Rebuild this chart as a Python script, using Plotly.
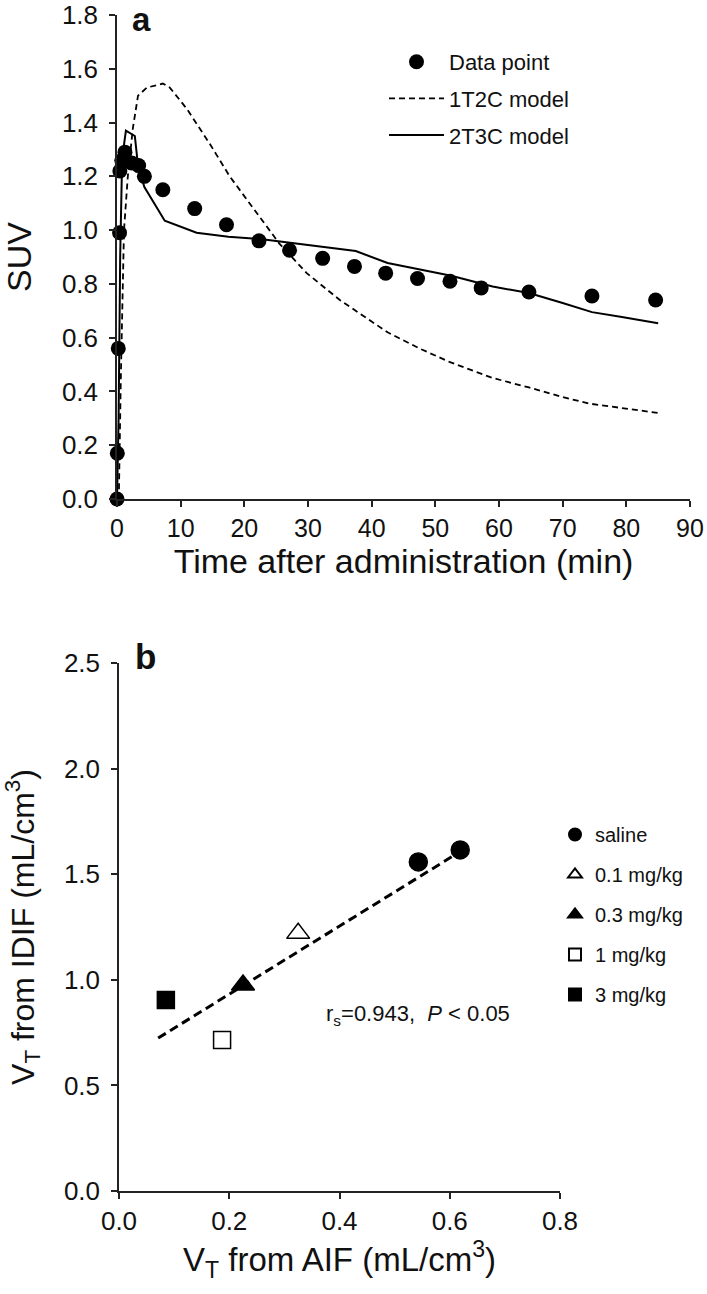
import plotly.graph_objects as go

FONT = "Liberation Sans, Arial, sans-serif"
W, H = 707, 1294

# ---------------- panel a data ----------------
t_data = [0.0, 0.05, 0.2, 0.4, 0.45, 0.75, 1.25, 2.3, 3.4, 4.3, 7.2, 12.2, 17.2,
          22.3, 27.1, 32.3, 37.3, 42.2, 47.2, 52.3, 57.2, 64.7, 74.6, 84.6]
suv_data = [0.0, 0.17, 0.56, 0.99, 1.22, 1.26, 1.29, 1.25, 1.24, 1.20, 1.15, 1.08, 1.02,
            0.96, 0.925, 0.895, 0.865, 0.84, 0.82, 0.81, 0.785, 0.77, 0.755, 0.74]

t_1t2c = [0.0, 0.3, 0.6, 0.9, 1.1, 1.7, 2.5, 3.3, 4.7, 7.2, 8.3, 11.0, 14.6, 17.7,
          20.8, 25.5, 29.8, 35.0, 42.5, 47.5, 52.2, 59.0, 64.7, 69.9, 74.1, 79.3, 85.0]
suv_1t2c = [0.0, 0.02, 0.45, 0.85, 1.0, 1.2, 1.38, 1.5, 1.53, 1.545, 1.53, 1.45, 1.32, 1.2,
            1.1, 0.95, 0.84, 0.74, 0.62, 0.56, 0.51, 0.45, 0.415, 0.38, 0.355, 0.338, 0.32]

t_2t3c = [0.0, 0.25, 0.5, 0.75, 1.0, 1.4, 2.8, 3.3, 4.3, 7.5, 12.5, 17.5, 22.5, 27.5,
          32.5, 37.5, 42.5, 47.5, 52.5, 59.0, 64.7, 70.0, 74.6, 79.3, 85.0]
suv_2t3c = [0.0, 0.3, 0.9, 1.2, 1.3, 1.37, 1.35, 1.24, 1.16, 1.035, 0.99, 0.975, 0.967, 0.952,
            0.937, 0.922, 0.878, 0.855, 0.83, 0.79, 0.766, 0.729, 0.695, 0.677, 0.654]

# ---------------- panel b data ----------------
saline_aif = [0.543, 0.619]
saline_idif = [1.558, 1.615]
dose01_aif = [0.325]
dose01_idif = [1.22]
dose03_aif = [0.225]
dose03_idif = [0.975]
dose1_aif = [0.187]
dose1_idif = [0.715]
dose3_aif = [0.085]
dose3_idif = [0.904]
fit_aif = [0.071, 0.63]
fit_idif = [0.724, 1.625]

fig = go.Figure()

# panel a traces
fig.add_trace(go.Scatter(x=t_data, y=suv_data, mode="markers", name="Data point",
                         legendgroup="d", marker=dict(color="black", size=15), cliponaxis=False,
                         xaxis="x", yaxis="y", legend="legend"))
fig.add_trace(go.Scatter(x=t_1t2c, y=suv_1t2c, mode="lines", name="1T2C model",
                         legendgroup="m1",
                         line=dict(color="black", width=1.8, dash="6px,4px"), cliponaxis=False,
                         xaxis="x", yaxis="y", legend="legend"))
fig.add_trace(go.Scatter(x=t_2t3c, y=suv_2t3c, mode="lines", name="2T3C model",
                         legendgroup="m2",
                         line=dict(color="black", width=2), cliponaxis=False,
                         xaxis="x", yaxis="y", legend="legend"))

# panel b traces
fig.add_trace(go.Scatter(x=fit_aif, y=fit_idif, mode="lines", showlegend=False,
                         line=dict(color="black", width=3, dash="9px,5px"),
                         xaxis="x2", yaxis="y2"))
groups = [
    ("saline", saline_aif, saline_idif, "circle", "black", 18),
    ("0.1 mg/kg", dose01_aif, dose01_idif, "triangle-up", "white", 20),
    ("0.3 mg/kg", dose03_aif, dose03_idif, "triangle-up", "black", 20),
    ("1 mg/kg", dose1_aif, dose1_idif, "square", "white", 17),
    ("3 mg/kg", dose3_aif, dose3_idif, "square", "black", 17),
]
for name, xs, ys, sym, col, sz in groups:
    fig.add_trace(go.Scatter(x=xs, y=ys, mode="markers", name=name, legendgroup=name,
                             marker=dict(symbol=sym, color=col, size=sz,
                                         line=dict(color="black", width=1.5)),
                             cliponaxis=False, xaxis="x2", yaxis="y2", legend="legend2"))

axis_common = dict(showline=True, linecolor="#222", linewidth=1.5, ticks="outside",
                   ticklen=6, tickwidth=1.5, tickcolor="#222", showgrid=False,
                   zeroline=False, automargin=False)

fig.update_layout(
    width=W, height=H, paper_bgcolor="white", plot_bgcolor="white",
    margin=dict(l=0, r=0, t=0, b=0, autoexpand=False),
    font=dict(family=FONT, color="#111"),
    xaxis=dict(domain=[117 / W, 690 / W], range=[0, 90], dtick=10, anchor="y",
               ticklabelstandoff=0, tickfont=dict(size=25, color="#111"),
               title=dict(text="Time after administration (min)", font=dict(size=34), standoff=6),
               **axis_common),
    yaxis=dict(domain=[1 - 499 / H, 1 - 15 / H], range=[0, 1.8], dtick=0.2, tickformat=".1f",
               anchor="x", ticklabelstandoff=6, tickfont=dict(size=26, color="#111"),
               title=dict(text="SUV", font=dict(size=34), standoff=22),
               **axis_common),
    xaxis2=dict(domain=[119 / W, 560 / W], range=[0, 0.8], dtick=0.2, tickformat=".1f",
                anchor="y2", ticklabelstandoff=0, tickfont=dict(size=26, color="#111"),
                title=dict(text="V<sub>T</sub> from AIF (mL/cm<sup>3</sup>)", font=dict(size=33),
                           standoff=12),
                **axis_common),
    yaxis2=dict(domain=[1 - 1191 / H, 1 - 663 / H], range=[0, 2.5], dtick=0.5, tickformat=".1f",
                anchor="x2", ticklabelstandoff=6, tickfont=dict(size=26, color="#111"),
                title=dict(text="V<sub>T</sub> from IDIF (mL/cm<sup>3</sup>)", font=dict(size=32),
                           standoff=20),
                **axis_common),
    legend=dict(x=384 / W, y=1 - 41 / H, xanchor="left", yanchor="top", itemwidth=55,
                font=dict(size=22, color="#111"), bgcolor="rgba(0,0,0,0)",
                tracegroupgap=5),
    legend2=dict(x=555 / W, y=1 - 815 / H, xanchor="left", yanchor="top",
                 font=dict(size=20, color="#111"), bgcolor="rgba(0,0,0,0)",
                 itemsizing="constant", tracegroupgap=11),
    annotations=[
        dict(text="<b>a</b>", x=141 / W, y=1.0, xref="paper", yref="paper", borderpad=0,
             showarrow=False, font=dict(size=33, color="#111"), xanchor="center", yanchor="top"),
        dict(text="<b>b</b>", x=145 / W, y=1 - 656 / H, xref="paper", yref="paper",
             showarrow=False, font=dict(size=35, color="#111"), xanchor="center", yanchor="middle"),
        dict(text="r<sub>s</sub>=0.943,  <i>P</i> &lt; 0.05", x=418 / W, y=1 - 1015 / H,
             xref="paper", yref="paper", showarrow=False, font=dict(size=22, color="#111"),
             xanchor="center", yanchor="middle"),
    ],
)

fig.write_html("out.html", config={"displayModeBar": False},
               post_script="document.body.style.margin='0';document.body.style.overflow='hidden';")
